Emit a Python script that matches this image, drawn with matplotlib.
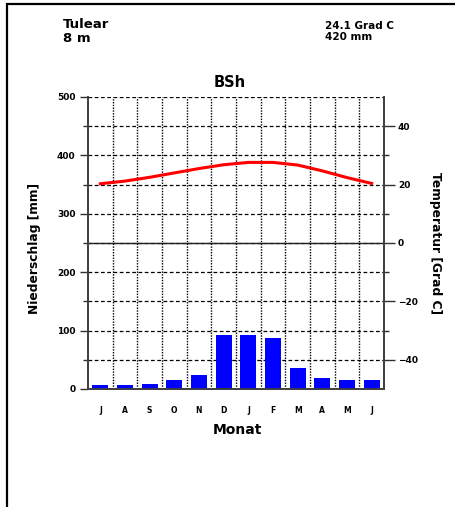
import matplotlib
matplotlib.use('Agg')
import matplotlib.pyplot as plt
from matplotlib.patches import Rectangle
from matplotlib.ticker import MultipleLocator, FixedLocator

# Daten Klimadiagramm Tulear
monate = ['J', 'A', 'S', 'O', 'N', 'D', 'J', 'F', 'M', 'A', 'M', 'J']
niederschlag = [7, 7, 9, 15, 24, 93, 93, 87, 36, 18, 16, 15]
temperatur = [20.3, 21.2, 22.5, 24.0, 25.5, 26.8, 27.6, 27.6, 26.7, 24.7, 22.4, 20.4]
station = 'Tulear'
hoehe = '8 m'
jahres_temp = '24.1 Grad C'
jahres_nied = '420 mm'
klima = 'BSh'

plt.rcParams['font.family'] = ['DejaVu Sans']
plt.rcParams['font.weight'] = 'bold'

fig = plt.figure(figsize=(4.56, 5.07), dpi=100)
fig.patch.set_facecolor('white')

ax = fig.add_axes([88 / 456, 118 / 507, 296 / 456, 292 / 507])
x = list(range(len(monate)))

# Niederschlag als Balken
ax.bar(x, niederschlag, width=0.65, color='#0000ff', zorder=3)
ax.set_xlim(-0.5, len(monate) - 0.5)
ax.set_ylim(0, 500)

ax.yaxis.set_major_locator(MultipleLocator(100))
ax.yaxis.set_minor_locator(FixedLocator([50, 150, 250, 350, 450]))
ax.set_xticks(x)
ax.set_xticklabels(monate, fontsize=5.5, fontweight='bold')
ax.xaxis.set_minor_locator(FixedLocator([i + 0.5 for i in range(len(monate) - 1)]))
ax.tick_params(axis='x', which='both', length=0, pad=12)
ax.tick_params(axis='y', which='major', length=6, width=1, colors='#303030',
               labelsize=6.5, pad=3)
ax.tick_params(axis='y', which='minor', length=3.5, width=1, colors='#303030')
for lab in ax.get_yticklabels():
    lab.set_fontweight('bold')
    lab.set_color('black')

# Gitter
ax.yaxis.grid(True, which='both', color='black', linestyle=(0, (3, 2)), linewidth=0.9, zorder=1)
ax.xaxis.grid(True, which='minor', color='black', linestyle=(0, (1, 1)), linewidth=1.0, zorder=1)
ax.xaxis.grid(False, which='major')
ax.axhline(250, color='#202020', linewidth=1.0, zorder=2)

for s in ['left', 'right', 'bottom']:
    ax.spines[s].set_color('#404040')
    ax.spines[s].set_linewidth(1.3)
ax.spines['top'].set_visible(False)

# Temperatur auf zweiter Achse
ax2 = ax.twinx()
ax2.plot(x, temperatur, color='#ff0000', linewidth=2.2, zorder=4)
ax2.set_ylim(-50, 50)
ax2.yaxis.set_major_locator(FixedLocator([-40, -20, 0, 20, 40]))
ax2.yaxis.set_minor_locator(FixedLocator([-30, -10, 10, 30]))
ax2.tick_params(axis='y', which='major', length=8, width=1, colors='#303030',
                labelsize=6.5, pad=2)
ax2.tick_params(axis='y', which='minor', length=3.5, width=1, colors='#303030')
for lab in ax2.get_yticklabels():
    lab.set_fontweight('bold')
    lab.set_color('black')
for s in ['left', 'right', 'bottom']:
    ax2.spines[s].set_color('#404040')
    ax2.spines[s].set_linewidth(1.3)
ax2.spines['top'].set_visible(False)

# Beschriftungen
fig.text(35 / 456, 1 - 248 / 507, 'Niederschlag [mm]', rotation=90,
         ha='center', va='center', fontsize=8.8, fontweight='bold')
fig.text(436 / 456, 1 - 243 / 507, 'Temperatur [Grad C]', rotation=270,
         ha='center', va='center', fontsize=8.8, fontweight='bold')
fig.text(237 / 456, 1 - 434 / 507, 'Monat', ha='center', va='baseline',
         fontsize=10, fontweight='bold')
fig.text(230 / 456, 1 - 87 / 507, klima, ha='center', va='baseline',
         fontsize=10.5, fontweight='bold')
fig.text(63 / 456, 1 - 28 / 507, station, ha='left', va='baseline',
         fontsize=9.5, fontweight='bold')
fig.text(63 / 456, 1 - 41.5 / 507, hoehe, ha='left', va='baseline',
         fontsize=9.5, fontweight='bold')
fig.text(325 / 456, 1 - 29 / 507, jahres_temp, ha='left', va='baseline',
         fontsize=7.5, fontweight='bold')
fig.text(325 / 456, 1 - 40 / 507, jahres_nied, ha='left', va='baseline',
         fontsize=7.5, fontweight='bold')

# Rahmen
fig.patches.append(Rectangle((7 / 456, -0.2), 2.0, 1.2 - 4 / 507,
                             transform=fig.transFigure, fill=False,
                             edgecolor='black', linewidth=1.6))

fig.savefig('out.png', dpi=100)
